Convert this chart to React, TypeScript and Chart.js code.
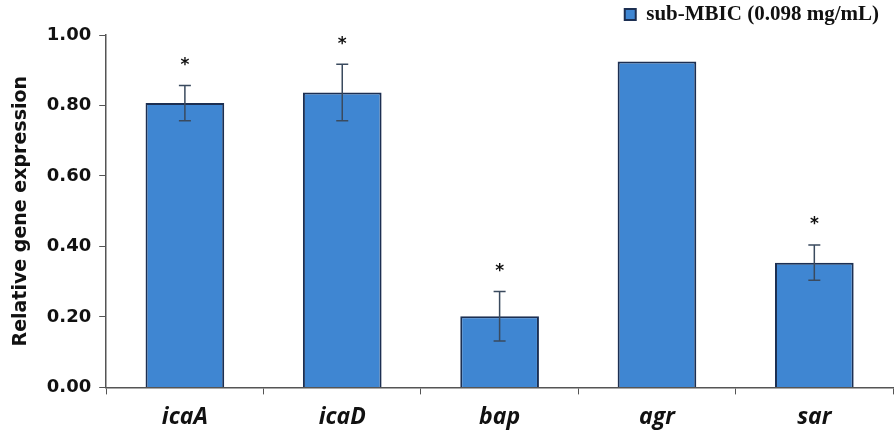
import React, { useEffect, useRef } from "react";
import { Chart, registerables } from "chart.js";

Chart.register(...registerables);

const categories = ["icaA", "icaD", "bap", "agr", "sar"];
const values = [0.807, 0.837, 0.202, 0.925, 0.354];
const errors = [0.05, 0.08, 0.07, 0, 0.05];
const significance = ["*", "*", "*", "", "*"];
const yTicks = [0, 0.2, 0.4, 0.6, 0.8, 1.0];
const seriesLabel = "sub-MBIC (0.098 mg/mL)";

const errorBarPlugin = {
  id: "errorBars",
  afterLayout(chart: any) {
    if (chart.legend) chart.legend.right -= 10;
  },
  afterDatasetsDraw(chart: any) {
    const { ctx, scales } = chart;
    const meta = chart.getDatasetMeta(0);
    const y = scales.y;
    ctx.save();
    meta.data.forEach((bar: any, i: number) => {
      const v = values[i];
      const e = errors[i];
      const cx = bar.x;
      if (e > 0) {
        const top = y.getPixelForValue(v + e);
        const bot = y.getPixelForValue(v - e);
        ctx.strokeStyle = "#3a4a5e";
        ctx.lineWidth = 1.5;
        ctx.beginPath();
        ctx.moveTo(cx, top);
        ctx.lineTo(cx, bot);
        ctx.moveTo(cx - 6, top);
        ctx.lineTo(cx + 6, top);
        ctx.moveTo(cx - 6, bot);
        ctx.lineTo(cx + 6, bot);
        ctx.stroke();
      }
      if (significance[i]) {
        const top = y.getPixelForValue(v + e);
        ctx.fillStyle = "#111";
        ctx.font = "bold 17px 'DejaVu Sans'";
        ctx.textAlign = "center";
        ctx.textBaseline = "middle";
        ctx.fillText(significance[i], cx, top - 20);
      }
    });
    ctx.restore();
  },
};

export default function App() {
  const ref = useRef<HTMLCanvasElement | null>(null);
  useEffect(() => {
    document.body.style.margin = "0";
    const chart = new Chart(ref.current!, {
      type: "bar",
      data: {
        labels: categories,
        datasets: [
          {
            label: seriesLabel,
            data: values,
            backgroundColor: "#3f86d2",
            borderColor: "#1c2f52",
            borderWidth: 2,
            barPercentage: 0.5,
            categoryPercentage: 1.0,
          },
        ],
      },
      options: {
        animation: false,
        responsive: false,
        layout: { padding: { left: 10, right: 2, top: 0, bottom: -8 } },
        plugins: {
          legend: {
            position: "top",
            align: "end",
            labels: {
              boxWidth: 11,
              boxHeight: 11,
              color: "#111",
              padding: 4,
              font: { family: "'Liberation Serif', serif", weight: "bold", size: 21 },
            },
          },
          tooltip: { enabled: false },
        },
        scales: {
          x: {
            grid: {
              display: true,
              drawOnChartArea: false,
              tickLength: 7,
              color: "#555",
              offset: true,
            },
            border: { color: "#555", width: 1.5 },
            ticks: {
              color: "#111",
              padding: 9,
              font: { family: "'Open Sans'", weight: "bold", style: "italic", size: 23 },
            },
          },
          y: {
            min: 0,
            max: 1,
            afterBuildTicks(axis: any) {
              axis.ticks = yTicks.map((v) => ({ value: v }));
            },
            grid: { display: true, drawOnChartArea: false, tickLength: 7, color: "#555" },
            border: { color: "#555", width: 1.5 },
            ticks: {
              color: "#111",
              padding: 8,
              font: { family: "'DejaVu Sans'", weight: "bold", size: 18 },
              callback: (v: any) => Number(v).toFixed(2),
            },
            title: {
              display: true,
              text: "Relative gene expression",
              color: "#111",
              padding: { top: 0, bottom: 6 },
              font: { family: "'DejaVu Sans'", weight: "bold", size: 19 },
            },
          },
        },
      },
      plugins: [errorBarPlugin],
    });
    return () => chart.destroy();
  }, []);
  return (
    <div style={{ width: 895, height: 432 }}>
      <canvas ref={ref} width={895} height={432} />
    </div>
  );
}
